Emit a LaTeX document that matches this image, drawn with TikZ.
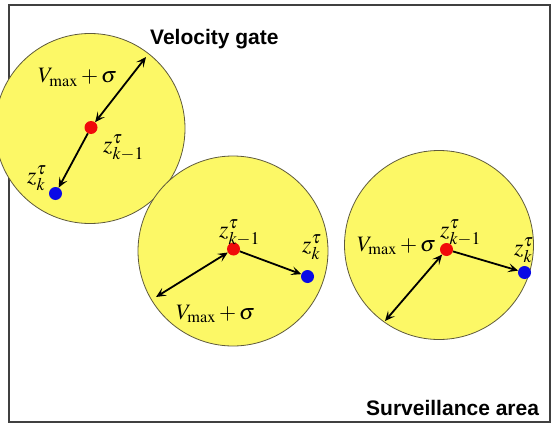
\documentclass[tikz,border=0pt]{standalone}
\usepackage{mathptmx}
\usepackage{fontspec}
\setsansfont{Liberation Sans}
\usetikzlibrary{arrows.meta}
\definecolor{gatefill}{RGB}{252,248,102}
\definecolor{gateedge}{RGB}{95,90,60}
\definecolor{framecol}{RGB}{64,64,64}
\definecolor{reddot}{RGB}{240,10,10}
\definecolor{bluedot}{RGB}{10,10,230}
\tikzset{
  gate/.style={draw=gateedge, line width=0.8pt, fill=gatefill},
  rdot/.style={circle, fill=reddot, minimum size=13pt, inner sep=0pt},
  bdot/.style={circle, fill=bluedot, minimum size=13pt, inner sep=0pt},
  tipstyle/.style={},
  arr/.style={line width=1.8pt, black, arrows={-Stealth[length=10pt,width=9pt,inset=4.5pt]}},
  darr/.style={line width=1.8pt, black, arrows={Stealth[length=10pt,width=9pt,inset=4.5pt]-Stealth[length=10pt,width=9pt,inset=4.5pt]}},
  mlabel/.style={anchor=base west, inner sep=0pt, font=\fontsize{22}{26}\selectfont},
  zlabel/.style={anchor=base west, inner sep=0pt, font=\fontsize{24}{28}\selectfont},
  title/.style={anchor=base west, inner sep=0pt, font=\sffamily\bfseries\fontsize{21}{25}\selectfont}
}
\begin{document}
\begin{tikzpicture}[x=1pt,y=-1pt]
\useasboundingbox (0,0) rectangle (551,425);
\fill[white] (0,0) rectangle (551,425);
% frame
\draw[framecol, line width=2pt] (8.5,5) rectangle (549.5,421.5);
% gates
\draw[gate] (90,128.5) circle (95);
\draw[gate] (233,251) circle (95);
\draw[gate] (439,245) circle (94.5);
% titles
\node[title] (vg) at (150,45) {Velocity gate};
\node[title] (sa) at (366,415) {Surveillance area};
% gate 1
\node[rdot] (r1) at (91,127.5) {};
\node[bdot] (b1) at (55.5,193.5) {};
\coordinate (e1) at (146,57);
\draw[darr] (r1) -- (e1);
\draw[arr] (r1) -- (b1);
\node[mlabel] (v1) at (38,83) {$V_{\max}+\sigma$};
\node[zlabel] (zp1) at (103,152) {$z_{k-1}^{\tau}$};
\node[zlabel] (z1) at (27,183) {$z_{k}^{\tau}$};
% gate 2
\node[rdot] (r2) at (233.5,249) {};
\node[bdot] (b2) at (307.5,276.5) {};
\coordinate (e2) at (156,297);
\draw[darr] (r2) -- (e2);
\draw[arr] (r2) -- (b2);
\node[mlabel] (v2) at (176,319) {$V_{\max}+\sigma$};
\node[zlabel] (zp2) at (219,237) {$z_{k-1}^{\tau}$};
\node[zlabel] (z2) at (302,252) {$z_{k}^{\tau}$};
% gate 3
\node[rdot] (r3) at (446.5,249.5) {};
\node[bdot] (b3) at (524.5,272.5) {};
\coordinate (e3) at (385,321);
\draw[darr] (r3) -- (e3);
\draw[arr] (r3) -- (b3);
\node[mlabel] (v3) at (357,251) {$V_{\max}+\sigma$};
\node[zlabel] (zp3) at (440,237) {$z_{k-1}^{\tau}$};
\node[zlabel] (z3) at (514,255) {$z_{k}^{\tau}$};
\end{tikzpicture}
\end{document}
